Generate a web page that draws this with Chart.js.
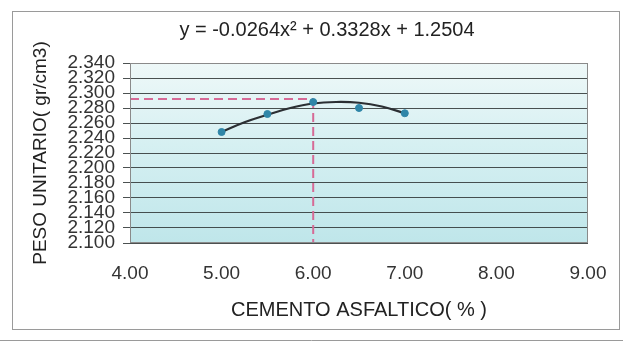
<!DOCTYPE html>
<html>
<head>
<meta charset="utf-8">
<script src="https://cdn.jsdelivr.net/npm/chart.js@4/dist/chart.umd.min.js"></script>
<style>
  html, body { margin: 0; padding: 0; background: #fff; }
  #wrap { width: 623px; height: 347px; position: relative; }
</style>
</head>
<body>
<div id="wrap"><canvas id="myChart"></canvas></div>
<script>
// puntos de ensayo (cemento asfaltico % vs peso unitario)
var porcentajes = [5.0, 5.5, 6.0, 6.5, 7.0];
var pesos = [2.248, 2.272, 2.288, 2.280, 2.273];

// linea de tendencia
var curvaX = [5.0, 5.25, 5.5, 5.75, 6.0, 6.25, 6.5, 6.75, 7.0];
var curvaY = [2.248, 2.261, 2.271, 2.280, 2.286, 2.288, 2.287, 2.282, 2.273];

// optimo marcado con lineas punteadas
var optimoX = 6.0;
var optimoY = 2.292;

var ecuacion = "y = -0.0264x\u00b2 + 0.3328x + 1.2504";
var tituloY = "PESO UNITARIO( gr/cm3)";
var tituloX = "CEMENTO ASFALTICO( % )";

function pares(xs, ys) {
    var out = [];
    for (var i = 0; i < xs.length; i++) out.push({x: xs[i], y: ys[i]});
    return out;
}

var fondo = {
    id: 'fondo',
    beforeDraw: function(chart) {
        var c = chart.ctx, a = chart.chartArea;
        c.save();
        // marco exterior
        c.strokeStyle = '#9a9a9a';
        c.lineWidth = 1;
        c.strokeRect(12.5, 11.5, 607, 318);
        c.beginPath();
        c.moveTo(0, 340.5); c.lineTo(623, 340.5);
        c.stroke();
        // area de trazado
        var g = c.createLinearGradient(0, a.top, 0, a.bottom);
        g.addColorStop(0, '#eef8f8');
        g.addColorStop(0.45, '#d6f0f2');
        g.addColorStop(1, '#bfe6ea');
        c.fillStyle = g;
        c.fillRect(a.left, a.top, a.right - a.left, a.bottom - a.top);
        // ecuacion de la tendencia
        c.fillStyle = '#222';
        c.font = '20px "Liberation Sans"';
        c.textAlign = 'center';
        c.textBaseline = 'middle';
        c.fillText(ecuacion, 327, 30);
        c.restore();
    },
    afterDraw: function(chart) {
        var c = chart.ctx, a = chart.chartArea;
        c.save();
        c.strokeStyle = '#8a8a8a';
        c.lineWidth = 1;
        c.strokeRect(a.left + 0.5, a.top + 0.5, a.right - a.left - 1, a.bottom - a.top - 1);
        c.restore();
    }
};

window.onload = function() {
    var ctx = document.getElementById("myChart").getContext("2d");
    new Chart(ctx, {
        type: 'scatter',
        data: {
            datasets: [
                {
                    label: 'tendencia',
                    data: pares(curvaX, curvaY),
                    showLine: true,
                    borderColor: '#2b2f33',
                    borderWidth: 2.2,
                    pointRadius: 0,
                    tension: 0.4,
                    order: 2
                },
                {
                    label: 'puntos',
                    data: pares(porcentajes, pesos),
                    backgroundColor: '#2f86a8',
                    borderColor: '#2f86a8',
                    pointRadius: 3.5,
                    order: 1
                },
                {
                    label: 'horizontal',
                    data: [{x: 4, y: optimoY}, {x: optimoX, y: optimoY}],
                    showLine: true,
                    borderColor: '#d66a96',
                    borderWidth: 2,
                    borderDash: [9, 5],
                    pointRadius: 0,
                    order: 3
                },
                {
                    label: 'vertical',
                    data: [{x: optimoX, y: optimoY}, {x: optimoX, y: 2.1}],
                    showLine: true,
                    borderColor: '#d66a96',
                    borderWidth: 2,
                    borderDash: [9, 5],
                    pointRadius: 0,
                    order: 3
                }
            ]
        },
        options: {
            responsive: true,
            maintainAspectRatio: false,
            animation: false,
            layout: { padding: { left: 0, right: 35, top: 63, bottom: 0 } },
            plugins: {
                legend: { display: false },
                tooltip: { enabled: false },
                title: { display: false }
            },
            scales: {
                x: {
                    type: 'linear',
                    min: 4, max: 9,
                    afterFit: function(s) { s.height = 104; },
                    ticks: {
                        stepSize: 1,
                        color: '#333',
                        padding: 11,
                        maxRotation: 0,
                        font: { family: 'Liberation Sans', size: 19 },
                        callback: function(v) { return v.toFixed(2); }
                    },
                    grid: { display: false },
                    border: { display: false },
                    title: {
                        display: true,
                        text: tituloX,
                        color: '#222',
                        font: { family: 'Liberation Sans', size: 20, lineHeight: 1.2 },
                        padding: { top: 0, bottom: 25 }
                    }
                },
                y: {
                    type: 'linear',
                    min: 2.1, max: 2.34,
                    afterFit: function(s) { s.width = 130; },
                    ticks: {
                        stepSize: 0.02,
                        autoSkip: false,
                        color: '#333',
                        padding: 8,
                        font: { family: 'Liberation Sans', size: 19, lineHeight: 1 },
                        callback: function(v) { return v.toFixed(3); }
                    },
                    grid: {
                        color: 'rgba(45,50,50,0.85)',
                        lineWidth: 1,
                        tickLength: 7,
                        tickColor: 'rgba(45,50,50,0.85)'
                    },
                    border: { display: false },
                    title: {
                        display: true,
                        text: tituloY,
                        color: '#222',
                        font: { family: 'Liberation Sans', size: 19, lineHeight: 1.2 },
                        padding: { top: 29, bottom: 0 }
                    }
                }
            }
        },
        plugins: [fondo]
    });
};
</script>
</body>
</html>
